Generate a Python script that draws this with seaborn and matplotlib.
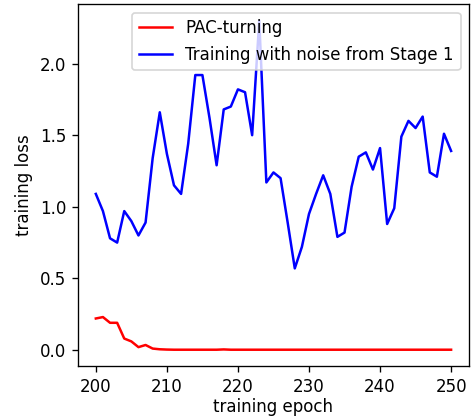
import matplotlib
matplotlib.use("Agg")
import matplotlib.pyplot as plt
import numpy as np
import pandas as pd
import seaborn as sns

epochs = list(range(200, 251))

# PAC-turning loss
pac_loss = [0.22, 0.23, 0.19, 0.19, 0.08, 0.06, 0.02, 0.035, 0.01, 0.005,
            0.003, 0.002, 0.002, 0.002, 0.002, 0.002, 0.002, 0.002, 0.004, 0.002,
            0.002, 0.002, 0.002, 0.002, 0.002, 0.002, 0.002, 0.002, 0.002, 0.002,
            0.002, 0.002, 0.002, 0.002, 0.002, 0.002, 0.002, 0.002, 0.002, 0.002,
            0.002, 0.002, 0.002, 0.002, 0.002, 0.002, 0.002, 0.002, 0.002, 0.002,
            0.002]

# training with noise from stage 1
noise_loss = [1.09, 0.97, 0.78, 0.75, 0.97, 0.90, 0.80, 0.89, 1.34, 1.66,
              1.37, 1.15, 1.09, 1.44, 1.92, 1.92, 1.62, 1.29, 1.68, 1.70,
              1.82, 1.80, 1.50, 2.30, 1.17, 1.24, 1.20, 0.89, 0.57, 0.72,
              0.95, 1.09, 1.22, 1.09, 0.79, 0.82, 1.14, 1.35, 1.38, 1.26,
              1.41, 0.88, 0.99, 1.49, 1.60, 1.55, 1.63, 1.24, 1.21, 1.51,
              1.39]

labels = ["PAC-turning", "Training with noise from Stage 1"]
colors = ["red", "blue"]

df = pd.DataFrame({
    "epoch": epochs * 2,
    "loss": pac_loss + noise_loss,
    "method": [labels[0]] * len(epochs) + [labels[1]] * len(epochs),
})

dpi = 120
fig, ax = plt.subplots(figsize=(476 / dpi, 418 / dpi), dpi=dpi)
fig.subplots_adjust(left=0.164, right=0.985, top=0.990, bottom=0.124)
sns.lineplot(data=df, x="epoch", y="loss", hue="method",
             palette=dict(zip(labels, colors)), ax=ax, linewidth=1.5)
ax.set_xlabel("training epoch", labelpad=1)
ax.set_ylabel("training loss")
ax.legend(loc="upper right")
fig.savefig("out.png", dpi=dpi)
